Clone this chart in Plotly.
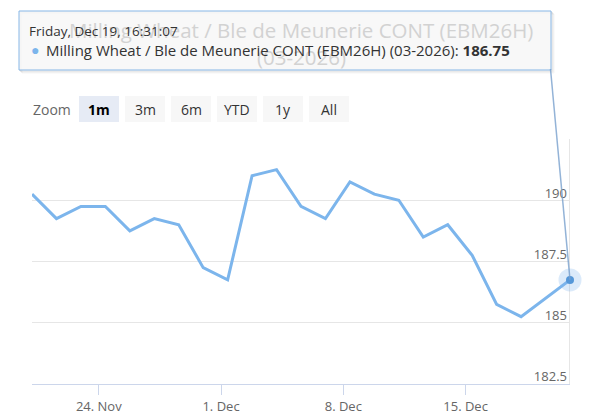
import plotly.graph_objects as go

# ---------------- data ----------------
dates = ["2025-11-19", "2025-11-20", "2025-11-21", "2025-11-24", "2025-11-25", "2025-11-26",
         "2025-11-27", "2025-11-28", "2025-12-01", "2025-12-02", "2025-12-03", "2025-12-04",
         "2025-12-05", "2025-12-08", "2025-12-09", "2025-12-10", "2025-12-11", "2025-12-12",
         "2025-12-15", "2025-12-16", "2025-12-17", "2025-12-18", "2025-12-19"]
prices = [190.25, 189.25, 189.75, 189.75, 188.75, 189.25, 189.0, 187.25, 186.75, 191.0,
          191.25, 189.75, 189.25, 190.75, 190.25, 190.0, 188.5, 189.0, 187.75, 185.75,
          185.25, 186.0, 186.75]
tick_dates = ["2025-11-24", "2025-12-01", "2025-12-08", "2025-12-15"]
tick_labels = ["24. Nov", "1. Dec", "8. Dec", "15. Dec"]
y_ticks = [182.5, 185, 187.5, 190, 192.5]
y_tick_labels = ["182.5", "185", "187.5", "190", ""]
series_name = "Milling Wheat / Ble de Meunerie CONT (EBM26H) (03-2026)"
title_lines = ["Milling Wheat / Ble de Meunerie CONT (EBM26H)", "(03-2026)"]
tooltip_date = "Friday, Dec 19, 16:31:07"
zoom_buttons = ["1m", "3m", "6m", "YTD", "1y", "All"]
selected_button = "1m"

# ordinal x axis: one slot per trading day; midnight ticks sit slightly before the day's close
x_idx = list(range(len(dates)))
tick_offset = 0.27
tick_pos = [dates.index(d) - tick_offset for d in tick_dates]

FONT = "Open Sans"
W, H = 598, 420
ML, MR, MT, MB = 32, 28, 139, 36
PW, PH = W - ML - MR, H - MT - MB


def px(x):
    return (x - ML) / PW


def py(y):
    return (H - MB - y) / PH


fig = go.Figure()
fig.add_trace(go.Scatter(x=x_idx, y=prices, mode="lines", name=series_name,
                         line=dict(color="#7cb5ec", width=3), hoverinfo="skip"))
# hover halo + marker on last point
fig.add_trace(go.Scatter(x=[x_idx[-1]], y=[prices[-1]], mode="markers",
                         marker=dict(size=23, color="rgba(124,181,236,0.28)"),
                         hoverinfo="skip", cliponaxis=False))
fig.add_trace(go.Scatter(x=[x_idx[-1]], y=[prices[-1]], mode="markers",
                         marker=dict(size=8, color="#5597d8"),
                         hoverinfo="skip", cliponaxis=False))

shapes = []
annotations = []

# crosshair / right edge line
shapes.append(dict(type="line", xref="x", yref="paper", x0=x_idx[-1], x1=x_idx[-1], y0=0, y1=1,
                   line=dict(color="#cccccc", width=1), layer="below"))

# tooltip shadow + box
for k, a in [(3, 0.04), (2, 0.07), (1, 0.10)]:
    shapes.append(dict(type="rect", xref="paper", yref="paper",
                       x0=px(19 + k), x1=px(551 + k), y0=py(70 + k), y1=py(11 + k),
                       line=dict(color=f"rgba(0,0,0,{a})", width=1), fillcolor="rgba(0,0,0,0)"))
shapes.append(dict(type="rect", xref="paper", yref="paper",
                   x0=px(19), x1=px(551), y0=py(70), y1=py(11),
                   line=dict(color="#86b6e6", width=1), fillcolor="rgba(247,247,247,0.85)"))
# tooltip connector
shapes.append(dict(type="line", xref="paper", yref="paper",
                   x0=px(550.5), y0=py(69), x1=1.0, y1=(prices[-1] - 182.5) / 10,
                   line=dict(color="rgba(120,160,205,0.8)", width=1.5)))

# title (seen through tooltip)
annotations.append(dict(text=title_lines[0], xref="paper", yref="paper", x=px(301), y=py(30),
                        xanchor="center", yanchor="middle", showarrow=False,
                        font=dict(family=FONT, size=20.5, color="#d2d2d2")))
annotations.append(dict(text=title_lines[1], xref="paper", yref="paper", x=px(301), y=py(57),
                        xanchor="center", yanchor="middle", showarrow=False,
                        font=dict(family=FONT, size=20.5, color="#d2d2d2")))
# tooltip text
annotations.append(dict(text=tooltip_date, xref="paper", yref="paper", x=px(27), y=py(31),
                        xanchor="left", yanchor="middle", showarrow=False,
                        font=dict(family=FONT, size=13.5, color="#333333")))
annotations.append(dict(text="●", xref="paper", yref="paper", x=px(35), y=py(49),
                        xanchor="center", yanchor="middle", showarrow=False,
                        font=dict(family=FONT, size=14, color="#7cb5ec")))
annotations.append(dict(text=f"{series_name}: <b>{prices[-1]:.2f}</b>", xref="paper", yref="paper",
                        x=px(44), y=py(49.5), xanchor="left", yanchor="middle", showarrow=False,
                        font=dict(family=FONT, size=15, color="#333333")))

# range selector look-alike
annotations.append(dict(text="Zoom", xref="paper", yref="paper", x=px(31), y=py(109),
                        xanchor="left", yanchor="middle", showarrow=False,
                        font=dict(family=FONT, size=14, color="#666666")))
bx = 79
for b in zoom_buttons:
    sel = b == selected_button
    shapes.append(dict(type="rect", xref="paper", yref="paper", x0=px(bx), x1=px(bx + 40),
                       y0=py(122), y1=py(96), line=dict(width=0),
                       fillcolor="#e6ebf5" if sel else "#f7f7f7"))
    annotations.append(dict(text=f"<b>{b}</b>" if sel else b, xref="paper", yref="paper",
                            x=px(bx + 20), y=py(109), xanchor="center", yanchor="middle",
                            showarrow=False,
                            font=dict(family=FONT, size=14, color="#000000" if sel else "#333333")))
    bx += 46

fig.update_layout(
    width=W, height=H, margin=dict(l=ML, r=MR, t=MT, b=MB, pad=0, autoexpand=False),
    paper_bgcolor="white", plot_bgcolor="white", showlegend=False,
    shapes=shapes, annotations=annotations,
    xaxis=dict(range=[0, len(dates) - 1], tickvals=tick_pos, ticktext=tick_labels,
               automargin=False,
               showgrid=False, zeroline=False, showline=True, linecolor="#ccd6eb", linewidth=1,
               ticks="outside", ticklen=10, tickcolor="#ccd6eb", tickwidth=1,
               tickfont=dict(family=FONT, size=13, color="#666666"), fixedrange=True),
    yaxis=dict(range=[182.5, 192.5], tickvals=y_ticks, ticktext=y_tick_labels, side="right",
               automargin=False, ticklabeloverflow="allow",
               ticklabelposition="inside top", ticklabelshift=2, showgrid=True,
               gridcolor="#e6e6e6", gridwidth=1,
               zeroline=False, showline=False, ticks="",
               tickfont=dict(family=FONT, size=13, color="#666666"), fixedrange=True),
)

fig.write_html("out.html", config={"displayModeBar": False},
               post_script="document.body.style.margin='0px';document.body.style.overflow='hidden';")
